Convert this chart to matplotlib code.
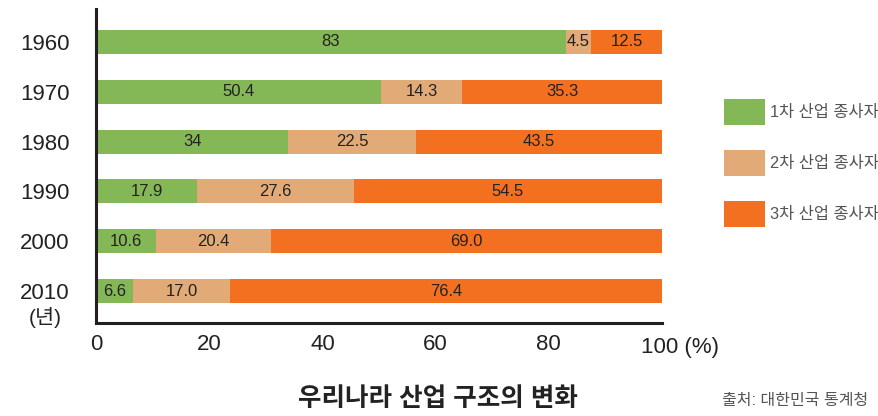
import matplotlib
matplotlib.use("Agg")
import matplotlib.pyplot as plt
from matplotlib.patches import Patch

plt.rcParams['font.family'] = ['Liberation Sans', 'Noto Sans CJK KR', 'DejaVu Sans']

years = ['1960', '1970', '1980', '1990', '2000', '2010']
primary = [83, 50.4, 34, 17.9, 10.6, 6.6]
secondary = [4.5, 14.3, 22.5, 27.6, 20.4, 17.0]
tertiary = [12.5, 35.3, 43.5, 54.5, 69.0, 76.4]
primary_lbl = ['83', '50.4', '34', '17.9', '10.6', '6.6']
secondary_lbl = ['4.5', '14.3', '22.5', '27.6', '20.4', '17.0']
tertiary_lbl = ['12.5', '35.3', '43.5', '54.5', '69.0', '76.4']
series_names = ['1차 산업 종사자', '2차 산업 종사자', '3차 산업 종사자']
xticks = [0, 20, 40, 60, 80]
colors = ['#84b756', '#e2aa77', '#f37021']

fig = plt.figure(figsize=(8.79, 4.16), dpi=100)
ax = fig.add_axes([96/879, 1-323/416, (662-96)/879, (323-9)/416])

ypos = list(range(len(years)))
lefts = [0]*len(years)
for vals, lbls, c in zip([primary, secondary, tertiary],
                         [primary_lbl, secondary_lbl, tertiary_lbl], colors):
    ax.barh(ypos, vals, left=lefts, height=0.48, color=c, edgecolor='none')
    for y, l, v, t in zip(ypos, lefts, vals, lbls):
        ax.text(l + v/2, y, t, ha='center', va='center', fontsize=12, color='#222222')
    lefts = [a + b for a, b in zip(lefts, vals)]

ax.set_xlim(0, 100)
ax.set_ylim(5.64, -0.66)
ax.set_yticks(ypos)
ax.set_yticklabels(years, fontsize=16, color='#222222')
ax.set_xticks(xticks)
ax.set_xticklabels([str(x) for x in xticks], fontsize=16, color='#222222')
ax.annotate('100 (%)', xy=(100, 0), xycoords=('data', 'axes fraction'),
            xytext=(-15, -10), textcoords='offset points', ha='left', va='top',
            fontsize=16, color='#222222')
ax.tick_params(axis='both', length=0)
ax.tick_params(axis='y', pad=19)
ax.tick_params(axis='x', pad=8)
for s in ['top', 'right']:
    ax.spines[s].set_visible(False)
for s in ['left', 'bottom']:
    ax.spines[s].set_linewidth(2.2)
    ax.spines[s].set_color('#231f20')

fig.text(45/879, 1-318/416, '(년)', ha='center', va='center', fontsize=15, color='#222222')

handles = [Patch(facecolor=c, edgecolor='none') for c in colors]
fig.legend(handles, series_names, loc='center left', bbox_to_anchor=(724/879, 1-163/416),
           frameon=False, fontsize=11.8, labelcolor='#555555', borderpad=0, borderaxespad=0,
           handlelength=2.5, handleheight=2.02, handletextpad=0.3, labelspacing=1.55)

fig.text(438/879, 1-399/416, '우리나라 산업 구조의 변화', ha='center', va='center',
         fontsize=18.4, fontweight='bold', color='#222222')
fig.text(868/879, 1-400/416, '출처: 대한민국 통계청', ha='right', va='center',
         fontsize=11.5, color='#555555')

fig.savefig('out.png', dpi=100)
